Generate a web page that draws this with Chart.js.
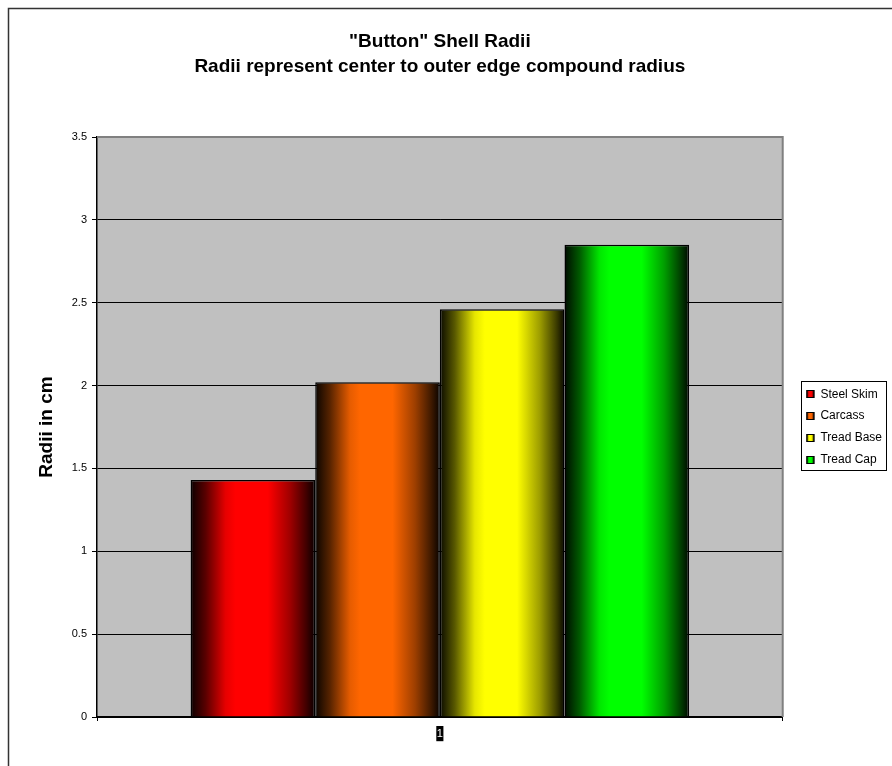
<!DOCTYPE html>
<html>
<head>
<meta charset="utf-8">
<script src="https://cdn.jsdelivr.net/npm/chart.js@4.4.1/dist/chart.umd.min.js"></script>
<style>
  html, body { margin: 0; padding: 0; background: #fff; overflow: hidden; }
  #wrap { position: relative; width: 892px; height: 766px; }
  canvas { display: block; }
</style>
</head>
<body>
<div id="wrap"><canvas id="c" width="892" height="766"></canvas></div>
<script>
// ---- data ----
const categories = ['1'];
const seriesNames = ['Steel Skim', 'Carcass', 'Tread Base', 'Tread Cap'];
const steelSkim = [1.43];
const carcass = [2.02];
const treadBase = [2.46];
const treadCap = [2.85];
const yTicks = [0, 0.5, 1, 1.5, 2, 2.5, 3, 3.5];
const titleLines = ['"Button" Shell Radii', 'Radii represent center to outer edge compound radius'];
const yTitle = 'Radii in cm';

// ---- styling ----
const seriesRGB = [[255, 0, 0], [255, 102, 0], [255, 255, 0], [0, 255, 0]];
const CATEGORY_PCT = 0.727;
const FONT = '"Liberation Sans", Arial, Helvetica, sans-serif';

function shade(rgb, k) {
  return 'rgb(' + rgb.map(v => Math.round(v * k)).join(',') + ')';
}
// cylinder-like horizontal shading: dark edges, bright middle
function horizGradient(c, x0, x1, rgb) {
  const g = c.createLinearGradient(x0, 0, x1, 0);
  g.addColorStop(0, shade(rgb, 0.04));
  g.addColorStop(0.12, shade(rgb, 0.35));
  g.addColorStop(0.28, shade(rgb, 0.9));
  g.addColorStop(0.36, shade(rgb, 1));
  g.addColorStop(0.62, shade(rgb, 1));
  g.addColorStop(0.8, shade(rgb, 0.62));
  g.addColorStop(0.93, shade(rgb, 0.25));
  g.addColorStop(1, shade(rgb, 0.03));
  return g;
}

// bar fill computed from the category scale geometry
function barFill(ctx) {
  const chart = ctx.chart;
  const rgb = seriesRGB[ctx.datasetIndex];
  const xs = chart.scales && chart.scales.x;
  if (!chart.chartArea || !xs || !xs.width || ctx.dataIndex === undefined) return shade(rgb, 1);
  const n = seriesNames.length;
  const catW = xs.width / categories.length;
  const group = catW * CATEGORY_PCT;
  const bw = group / n;
  const left = xs.getPixelForValue(ctx.dataIndex) - group / 2 + ctx.datasetIndex * bw;
  return horizGradient(chart.ctx, left, left + bw, rgb);
}

const seriesValues = [steelSkim, carcass, treadBase, treadCap];

const backgroundPlugin = {
  id: 'plotBackground',
  beforeDraw(chart) {
    const c = chart.ctx;
    const a = chart.chartArea;
    c.save();
    c.fillStyle = '#fff';
    c.fillRect(0, 0, chart.width, chart.height);
    // outer frame
    c.strokeStyle = '#333';
    c.lineWidth = 1.5;
    c.strokeRect(8.5, 8.5, chart.width + 50, chart.height + 50);
    // plot area fill
    c.fillStyle = '#c0c0c0';
    c.fillRect(a.left, a.top, a.right - a.left, a.bottom - a.top);
    c.restore();
  },
  afterDatasetsDraw(chart) {
    const c = chart.ctx;
    const a = chart.chartArea;
    c.save();
    c.strokeStyle = '#808080';
    c.lineWidth = 2;
    c.beginPath();
    c.moveTo(a.left, a.top);
    c.lineTo(a.right, a.top);
    c.lineTo(a.right, a.bottom);
    c.stroke();
    c.restore();
  }
};

const legendDecor = {
  id: 'legendDecor',
  afterDraw(chart) {
    const lg = chart.legend;
    if (!lg || !lg.legendHitBoxes || !lg.legendHitBoxes.length) return;
    const c = chart.ctx;
    const boxes = lg.legendHitBoxes;
    c.save();
    boxes.forEach((hb, i) => {
      const cy = hb.top + hb.height / 2;
      const x = hb.left, y = Math.round(cy - 4);
      c.fillStyle = horizGradient(c, x, x + 8, seriesRGB[i]);
      c.fillRect(x, y, 8, 8);
      c.strokeStyle = '#000';
      c.lineWidth = 1;
      c.strokeRect(x + 0.5, y + 0.5, 7, 7);
    });
    const first = boxes[0], last = boxes[boxes.length - 1];
    const left = first.left - 5;
    const right = Math.max(...boxes.map(b => b.left + b.width)) + 4;
    const top = first.top - 7;
    const bottom = last.top + last.height + 5;
    c.strokeStyle = '#000';
    c.lineWidth = 1;
    c.strokeRect(Math.round(left) + 0.5, Math.round(top) + 0.5, Math.round(right - left), Math.round(bottom - top));
    c.restore();
  }
};

new Chart(document.getElementById('c'), {
  type: 'bar',
  data: {
    labels: categories,
    datasets: seriesNames.map((name, i) => ({
      label: name,
      data: seriesValues[i],
      backgroundColor: barFill,
      borderColor: '#000',
      borderWidth: 1.5,
      borderSkipped: 'bottom',
      barPercentage: 1.0,
      categoryPercentage: CATEGORY_PCT
    }))
  },
  options: {
    responsive: false,
    animation: false,
    devicePixelRatio: 1,
    layout: { padding: { left: 0, right: 0, top: 0, bottom: 0 } },
    plugins: {
      title: {
        display: true,
        fullSize: false,
        text: titleLines,
        color: '#000',
        font: { family: FONT, size: 19, weight: 'bold', lineHeight: 25 / 19 },
        padding: { top: 29, bottom: 58 }
      },
      legend: {
        position: 'right',
        fullSize: false,
        onClick: null,
        labels: {
          color: '#000',
          font: { family: FONT, size: 12 },
          boxWidth: 8,
          boxHeight: 8,
          padding: 9.7,
          generateLabels: () => seriesNames.map((name, i) => ({
            text: name,
            fillStyle: 'rgba(0,0,0,0)',
            strokeStyle: 'rgba(0,0,0,0)',
            lineWidth: 0,
            hidden: false,
            datasetIndex: i,
            fontColor: '#000'
          }))
        }
      },
      tooltip: { enabled: false }
    },
    scales: {
      x: {
        offset: true,
        grid: {
          display: true,
          drawOnChartArea: false,
          drawTicks: true,
          tickLength: 4,
          color: '#000'
        },
        border: { display: true, color: '#000', width: 2 },
        ticks: {
          color: '#fff',
          font: { family: FONT, size: 11 },
          padding: 6,
          showLabelBackdrop: true,
          backdropColor: '#000',
          backdropPadding: { top: 1, bottom: 1, left: 0.5, right: 0.5 }
        },
        afterFit(s) { s.height = 49; }
      },
      y: {
        min: 0,
        max: 3.5,
        afterBuildTicks(s) { s.ticks = yTicks.map(v => ({ value: v })); },
        grid: {
          color: c => (c.tick && c.tick.value === 3.5) ? 'rgba(0,0,0,0)' : '#000',
          tickColor: '#000',
          lineWidth: 1,
          tickLength: 5
        },
        border: { display: true, color: '#000', width: 1.5 },
        ticks: {
          color: '#000',
          font: { family: FONT, size: 11 },
          padding: 5,
          callback: v => String(v)
        },
        title: {
          display: true,
          text: yTitle,
          color: '#000',
          font: { family: FONT, size: 19, weight: 'bold' },
          padding: { top: 35, bottom: 0 }
        },
        afterFit(s) { s.width = 97; }
      },
      gap: {
        type: 'linear',
        position: 'right',
        display: true,
        grid: { display: false, drawTicks: false },
        border: { display: false },
        ticks: { display: false },
        afterFit(s) { s.width = 14; }
      }
    }
  },
  plugins: [backgroundPlugin, legendDecor]
});
</script>
</body>
</html>
